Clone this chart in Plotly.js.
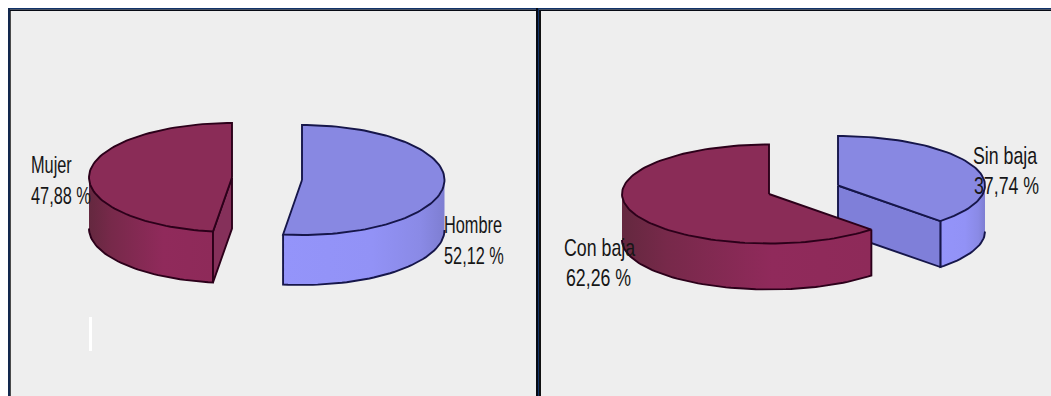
<!DOCTYPE html>
<html>
<head>
<meta charset="utf-8">
<script src="https://cdn.plot.ly/plotly-3.0.1.min.js"></script>
<style>
  html, body { margin: 0; padding: 0; background: #ffffff; overflow: hidden; }
  #chart { width: 1051px; height: 396px; }
</style>
</head>
<body>
<div id="chart"></div>
<script>
// Shares of each pie, in percent
const sexCategories = ['Hombre', 'Mujer'];
const sexShares = [52.12, 47.88];
const leaveCategories = ['Sin baja', 'Con baja'];
const leaveShares = [37.74, 62.26];

// Canvas size and panel frame, in pixels
const W = 1051, H = 396;
const panelTop = 11, leftPanel = [11, 536], rightPanel = [541, 1051];

const BLUE = {
  top: '#8888e2', face: '#7f7fd9', line: '#16164a',
  side: [[0, '#9494fa'], [0.55, '#9292f6'], [0.85, '#8a8ae6'], [1, '#7e7ed2']]
};
const MAROON = {
  top: '#8a2c57', face: '#85305a', line: '#2c001a',
  side: [[0, '#64283f'], [0.18, '#77294a'], [0.6, '#902a5b'], [1, '#8e2a59']]
};

// Drawing geometry of each slice: ellipse centre, radii, extrusion depth, sweep direction
const slices = [
  { share: sexShares[0],    axis: '',  cx: 302, cy: 180,   rx: 142.5, ry: 55,   depth: 50, dir:  1, look: BLUE },
  { share: sexShares[1],    axis: '',  cx: 232, cy: 177.5, rx: 143,   ry: 54.5, depth: 51, dir: -1, look: MAROON },
  { share: leaveShares[0],  axis: '2', cx: 838, cy: 185.5, rx: 147,   ry: 49.5, depth: 46, dir:  1, look: BLUE },
  { share: leaveShares[1],  axis: '2', cx: 769, cy: 194,   rx: 147,   ry: 49.5, depth: 46, dir: -1, look: MAROON }
];

// Labels: one annotation for the name and one for the formatted value
const labelSpots = [
  { name: sexCategories[0],   value: sexShares[0],   axis: '',  x: 443, y: 224, vx: 443, vy: 255 },
  { name: sexCategories[1],   value: sexShares[1],   axis: '',  x: 30,  y: 164, vx: 30,  vy: 195 },
  { name: leaveCategories[0], value: leaveShares[0], axis: '2', x: 972, y: 155, vx: 973, vy: 185 },
  { name: leaveCategories[1], value: leaveShares[1], axis: '2', x: 563, y: 247, vx: 565, vy: 277 }
];

const rad = d => d * Math.PI / 180;

// A point on the slice's rim; angle is measured from the back of the pie along its sweep
function rim(s, angle, drop) {
  return [s.cx + s.dir * Math.sin(rad(angle)) * s.rx,
          s.cy - Math.cos(rad(angle)) * s.ry + (drop || 0)];
}

function arc(s, from, to, drop) {
  const pts = [];
  const n = Math.ceil(Math.abs(to - from) / 2);
  for (let i = 0; i <= n; i++) pts.push(rim(s, from + (to - from) * i / n, drop));
  return pts;
}

function polyTrace(pts, axis, opts) {
  return Object.assign({
    type: 'scatter', mode: 'lines', hoverinfo: 'skip', showlegend: false,
    x: pts.map(p => p[0]), y: pts.map(p => p[1]),
    xaxis: 'x' + axis, yaxis: 'y' + axis
  }, opts);
}

function sliceTraces(s) {
  const sweep = s.share * 3.6;
  const out = [];
  const end = rim(s, sweep);
  const endLow = rim(s, sweep, s.depth);
  const apex = [s.cx, s.cy];
  const apexLow = [s.cx, s.cy + s.depth];
  const lineStyle = { color: s.look.line, width: 1.9 };

  // Outer wall, filled with a horizontal shade
  const upper = arc(s, 90, sweep);
  const lower = arc(s, sweep, 90, s.depth);
  out.push(polyTrace(upper.concat(lower, [upper[0]]), s.axis, {
    fill: 'toself', line: { width: 0, color: 'rgba(0,0,0,0)' },
    fillcolor: s.look.side[1][1],
    fillgradient: { type: 'horizontal', colorscale: s.look.side }
  }));
  // Lower rim of the wall and its vertical end edge
  out.push(polyTrace([end].concat(lower), s.axis, { line: lineStyle }));

  // The cut face only turns toward the viewer on slices narrower than a half pie
  if (sweep < 180) {
    out.push(polyTrace([apex, apexLow, endLow, end, apex], s.axis, {
      fill: 'toself', fillcolor: s.look.face, line: lineStyle
    }));
  }

  // Top surface
  const top = [apex].concat(arc(s, 0, sweep), [apex]);
  out.push(polyTrace(top, s.axis, {
    fill: 'toself', fillcolor: s.look.top, line: lineStyle
  }));
  return out;
}

const traces = slices.flatMap(sliceTraces);

const fmt = v => v.toFixed(2).replace('.', ',') + ' %';
const labelFont = { family: '"Liberation Sans", Arial, sans-serif', size: 24, color: '#161616' };
const note = (text, axis, x, y) => ({
  text, x, y, xref: 'x' + axis, yref: 'y' + axis,
  xanchor: 'left', yanchor: 'middle', showarrow: false, borderpad: 0, font: labelFont
});
const annotations = labelSpots.flatMap(l => [
  note(l.name, l.axis, l.x, l.y),
  note(fmt(l.value), l.axis, l.vx, l.vy)
]);
// Horizontal narrowing per annotation; the second panel's labels run a little wider
const labelSqueeze = annotations.map(a => a.xref === 'x' ? 0.68 : 0.74);

const hiddenAxis = (range, domain, anchor) => ({
  range, domain, anchor, visible: false, fixedrange: true
});
const px = v => v / W;
const py = v => 1 - v / H;
const yDomain = [0, py(panelTop)];

const frame = (x0, x1, y0, y1, color) => ({
  type: 'rect', xref: 'paper', yref: 'paper', layer: 'above',
  x0: px(x0), x1: px(x1), y0: py(y0), y1: py(y1),
  fillcolor: color, line: { width: 0 }
});

const layout = {
  width: W, height: H,
  margin: { l: 0, r: 0, t: 0, b: 0 },
  paper_bgcolor: '#ffffff',
  plot_bgcolor: '#eeeeee',
  xaxis:  hiddenAxis(leftPanel, [px(leftPanel[0]), px(leftPanel[1])], 'y'),
  yaxis:  hiddenAxis([H, panelTop], yDomain, 'x'),
  xaxis2: hiddenAxis(rightPanel, [px(rightPanel[0]), px(rightPanel[1])], 'y2'),
  yaxis2: hiddenAxis([H, panelTop], yDomain, 'x2'),
  annotations,
  shapes: [
    frame(8, W, 8, 9.5, '#12346a'),
    frame(8, W, 9.5, 11, '#060a14'),
    frame(8, 10, 8, H, '#12284e'),
    frame(10, 11, 11, H, '#4a4a4a'),
    frame(536, 538, 8, H, '#060a14'),
    frame(538, 539, 8, H, '#12346a'),
    frame(539, 541, 11, H, '#101010'),
    // Thin white stroke left in the first panel
    frame(89, 92, 317, 351, '#ffffff')
  ]
};

Plotly.newPlot('chart', traces, layout, { displayModeBar: false, staticPlot: true }).then(gd => {
  // No condensed face is installed, so narrow each label about its left edge
  gd.querySelectorAll('.annotation').forEach(group => {
    const t = group.querySelector('text');
    const k = labelSqueeze[+group.getAttribute('data-index')];
    const left = t.getBBox().x;
    t.setAttribute('transform', `translate(${left},0) scale(${k},1) translate(${-left},0)`);
  });
});
</script>
</body>
</html>
